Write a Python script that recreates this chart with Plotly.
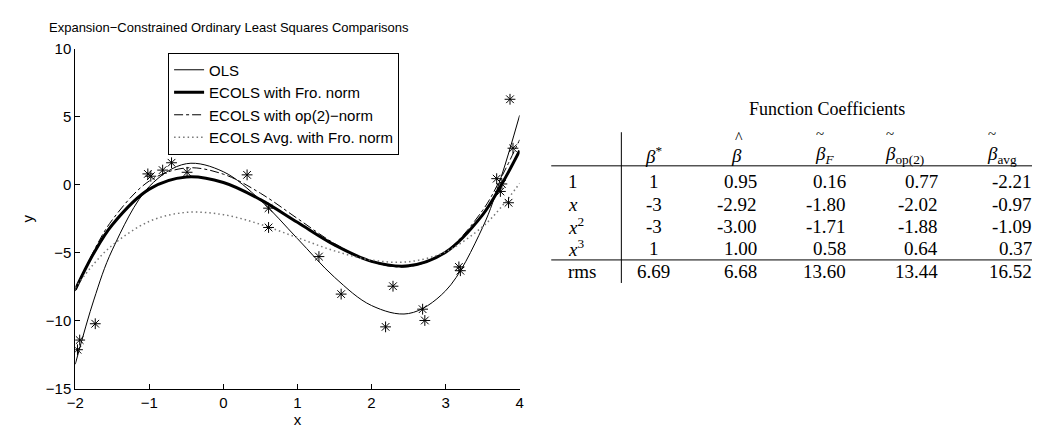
import plotly.graph_objects as go

W, H = 1040, 427

# ---------------- data ----------------
curve_x = [-2, -1.75, -1.5, -1, -0.5, 0, 0.5, 1, 1.5, 2, 2.5, 3, 3.5, 3.75, 4]
ols_y = [-13.21, -8.49, -4.80, -0.13, 1.54, 0.95, -1.14, -3.97, -6.81, -8.89, -9.48, -7.81, -3.15, 0.55, 5.10]
fro_y = [-7.72, -5.04, -2.95, -0.33, 0.56, 0.16, -1.10, -2.77, -4.43, -5.64, -5.97, -4.97, -2.22, -0.05, 2.50]
op2_y = [-7.83, -4.88, -2.59, 0.27, 1.23, 0.77, -0.63, -2.49, -4.33, -5.67, -6.03, -4.93, -1.89, 0.51, 3.30]
avg_y = [-7.59, -5.83, -4.46, -2.70, -2.04, -2.21, -2.92, -3.90, -4.87, -5.55, -5.67, -4.94, -3.09, -1.66, 0.10]

obs_x = [-1.97, -1.94, -1.73, -1.02, -0.98, -0.82, -0.70, -0.49, 0.32, 0.61, 0.61,
         1.29, 1.59, 2.19, 2.29, 2.69, 2.72, 3.18, 3.20, 3.69, 3.76, 3.74, 3.85, 3.91, 3.87]
obs_y = [-12.14, -11.43, -10.23, 0.79, 0.62, 1.07, 1.61, 0.91, 0.72, -1.73, -3.15,
         -5.29, -8.05, -10.46, -7.47, -9.16, -9.99, -6.05, -6.33, 0.44, 0.05, -0.50, -1.33, 2.68, 6.28]

series_names = ["OLS", "ECOLS with Fro. norm", "ECOLS with op(2)\u2212norm", "ECOLS Avg. with Fro. norm"]

x_ticks = [-2, -1, 0, 1, 2, 3, 4]
y_ticks = [-15, -10, -5, 0, 5, 10]

table_title = "Function Coefficients"
header_text = ["<i>\u03b2</i><sup>*</sup>", "<i>\u03b2</i>", "<i>\u03b2</i><sub><i>F</i></sub>",
               "<i>\u03b2</i><sub>op(2)</sub>", "<i>\u03b2</i><sub>avg</sub>"]
header_acc = ["", "^", "~", "~", "~"]
row_labels = ["1", "<i>x</i>", "<i>x</i><sup>2</sup>", "<i>x</i><sup>3</sup>", "rms"]
col_true = ["1", "-3", "-3", "1", "6.69"]
col_ols = ["0.95", "-2.92", "-3.00", "1.00", "6.68"]
col_fro = ["0.16", "-1.80", "-1.71", "0.58", "13.60"]
col_op2 = ["0.77", "-2.02", "-1.88", "0.64", "13.44"]
col_avg = ["-2.21", "-0.97", "-1.09", "0.37", "16.52"]

# ---------------- figure ----------------
fig = go.Figure()
sans = "Liberation Sans, Arial, Helvetica, sans-serif"
serif = "Liberation Serif, Times New Roman, serif"

fig.add_trace(go.Scatter(x=curve_x, y=ols_y, mode="lines", name=series_names[0],
                         line=dict(color="black", width=1, shape="spline")))
fig.add_trace(go.Scatter(x=curve_x, y=fro_y, mode="lines", name=series_names[1],
                         line=dict(color="black", width=3, shape="spline")))
fig.add_trace(go.Scatter(x=curve_x, y=op2_y, mode="lines", name=series_names[2],
                         line=dict(color="black", width=1, dash="dashdot", shape="spline")))
fig.add_trace(go.Scatter(x=curve_x, y=avg_y, mode="lines", name=series_names[3],
                         line=dict(color="#777777", width=1.5, dash="1.5px,3px", shape="spline")))
fig.add_trace(go.Scatter(x=obs_x, y=obs_y, mode="markers", showlegend=False,
                         marker=dict(symbol="asterisk-open", size=9, color="black",
                                     line=dict(color="black", width=1))))

px = lambda v: v / W
py = lambda v: 1 - v / H

fig.update_layout(
    width=W, height=H,
    margin=dict(l=0, r=0, t=0, b=0),
    paper_bgcolor="white", plot_bgcolor="white",
    font=dict(family=sans, size=15, color="black"),
    xaxis=dict(domain=[px(59), px(509)], range=[-2, 4], tickvals=x_ticks,
               ticks="inside", ticklen=5, tickcolor="black", showline=True,
               linecolor="black", linewidth=1, showgrid=False, zeroline=False,
               tickfont=dict(size=15), title=dict(text="x", standoff=0, font=dict(size=15))),
    yaxis=dict(domain=[py(387), py(33)], range=[-15, 10], tickvals=y_ticks,
               ticks="inside", ticklen=5, tickcolor="black", showline=True,
               linecolor="black", linewidth=1, showgrid=False, zeroline=False,
               tickfont=dict(size=15), title=dict(text="y", standoff=8, font=dict(size=15))),
    legend=dict(x=px(153), y=py(37), xanchor="left", yanchor="top",
                bordercolor="black", borderwidth=1, bgcolor="white",
                font=dict(size=15, family=sans), tracegroupgap=0, itemwidth=30),
    showlegend=True,
)

annotations = []


def ann(text, x, y, size, family=serif, xanchor="center"):
    annotations.append(dict(text=text, x=px(x), y=py(y), xref="paper", yref="paper",
                            xanchor=xanchor, yanchor="middle", showarrow=False,
                            font=dict(family=family, size=size, color="black")))


ann("Expansion\u2212Constrained Ordinary Least Squares Comparisons", 30, 11, 13, sans, "left")
ann(table_title, 820, 96, 18)

# header: (text anchor x, anchor side, accent centre x, accent y, accent size)
header_pos = [(645, "center", 0, 0, 0), (729, "center", 731, 125, 16),
              (806, "left", 813, 121.5, 15), (877, "left", 884, 121.5, 15),
              (980, "left", 987, 121.5, 15)]
header_y = 144
for (hx, anchor, acx, acy, acs), ht, acc in zip(header_pos, header_text, header_acc):
    ann(ht, hx, header_y, 19, serif, anchor)
    if acc:
        ann(acc, acx, acy, acs, serif, "center")

row_y = [171, 195, 218, 241, 265]
for ry, lab in zip(row_y, row_labels):
    ann(lab, 556, ry, 19, serif, "left")
for ry, v in zip(row_y, col_true):
    ann(v, 645, ry, 19)
for rx, col in zip([751, 842, 935, 1030], [col_ols, col_fro, col_op2, col_avg]):
    for ry, v in zip(row_y, col):
        ann(v, rx, ry, 19, serif, "right")

shapes = [
    dict(type="line", xref="paper", yref="paper", x0=px(541), x1=px(1036), y0=py(155), y1=py(155),
         line=dict(color="black", width=1)),
    dict(type="line", xref="paper", yref="paper", x0=px(541), x1=px(1036), y0=py(253), y1=py(253),
         line=dict(color="black", width=1)),
    dict(type="line", xref="paper", yref="paper", x0=px(612), x1=px(612), y0=py(120), y1=py(277),
         line=dict(color="black", width=1)),
]

fig.update_layout(annotations=annotations, shapes=shapes)
fig.write_html("out.html")
